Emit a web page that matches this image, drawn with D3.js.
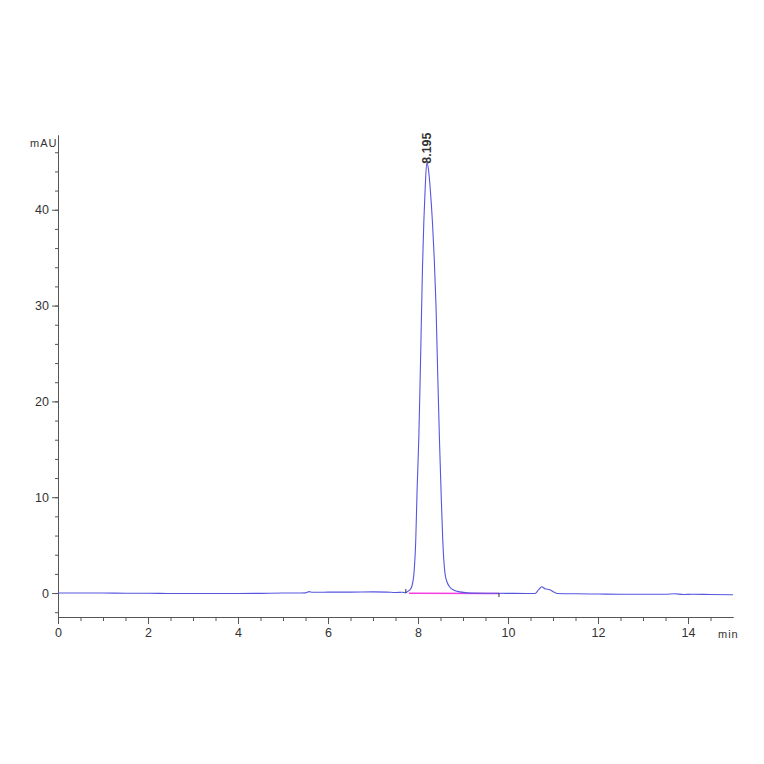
<!DOCTYPE html>
<html>
<head>
<meta charset="utf-8">
<script src="https://cdn.jsdelivr.net/npm/d3@7"></script>
<style>
  body { margin: 0; background: #fff; }
  svg text { font-family: "Liberation Sans", Arial, sans-serif; }
</style>
</head>
<body>
<div id="viz-container"></div>
<script>
// chromatogram trace (min, mAU)
let timeMin = [0, 0.5, 1, 1.5, 2, 2.5, 3, 3.5, 4, 4.5, 5, 5.3, 5.5, 5.58, 5.65, 5.8, 6, 6.5, 7, 7.3, 7.5, 7.65, 7.72, 7.75,
  7.8, 7.83, 7.86, 7.91, 7.95, 7.98, 8.02, 8.06, 8.10, 8.13, 8.16, 8.195, 8.23, 8.27, 8.32, 8.36, 8.40, 8.44, 8.48, 8.51, 8.55, 8.6, 8.65,
  8.7, 8.8, 8.93, 9.1, 9.5, 10, 10.4, 10.6, 10.68, 10.75, 10.82, 10.93, 11.02, 11.1, 11.5, 12, 12.5, 13, 13.5, 13.7,
  13.9, 14.1, 14.5, 15];
let signalMAU = [0, 0, 0, -0.02, -0.02, -0.05, -0.05, -0.05, -0.05, -0.03, 0, 0, 0.02, 0.15, 0.08, 0.08, 0.1, 0.1, 0.12, 0.1, 0.05, 0.08, 0.02, 0.1,
  0.25, 0.4, 0.66, 2.05, 5.5, 10.75, 16.5, 25, 34, 38.8, 42.3, 44.9, 44.3, 42.3, 38.8, 35, 30, 22.5, 15.5, 11, 5.5, 2.05, 1.1,
  0.66, 0.3, 0.12, 0.02, -0.02, -0.03, -0.05, -0.05, 0.35, 0.66, 0.45, 0.35, 0.1, -0.05, -0.08, -0.1, -0.12, -0.12, -0.13, -0.08,
  -0.15, -0.12, -0.15, -0.18];

// integration baseline of the main peak and its start / end marks
let baseTimes = [7.8, 9.8];
let baseValues = [-0.02, -0.04];
let peakStart = 7.73;
let peakEnd = 9.8;
let peakLabel = "8.195";
let peakTime = 8.195;
let peakHeight = 44.9;

let xMajorTicks = [0, 2, 4, 6, 8, 10, 12, 14];
let yMajorTicks = [0, 10, 20, 30, 40];

let viz = d3.select("#viz-container")
  .append("svg")
    .attr("width", 764)
    .attr("height", 764);

let x = d3.scaleLinear().domain([0, 15]).range([58, 733]);
let y = d3.scaleLinear().domain([-2.5, 47.8]).range([617, 135]);

let axisColor = "#555";

// minor ticks
viz.append("g")
  .attr("transform", "translate(0,617)")
  .call(d3.axisBottom(x).tickValues(d3.range(0.5, 15, 0.5)).tickSize(4).tickSizeOuter(0).tickFormat(""));
viz.append("g")
  .attr("transform", "translate(58,0)")
  .call(d3.axisLeft(y).tickValues(d3.range(-2, 47.9, 2)).tickSize(3).tickSizeOuter(0).tickFormat(""));

// major ticks
let xAxis = viz.append("g")
  .attr("transform", "translate(0,617)")
  .call(d3.axisBottom(x).tickValues(xMajorTicks).tickSize(7).tickSizeOuter(0).tickPadding(4));
let yAxis = viz.append("g")
  .attr("transform", "translate(58,0)")
  .call(d3.axisLeft(y).tickValues(yMajorTicks).tickSize(6).tickSizeOuter(0).tickPadding(3));

viz.selectAll(".domain, .tick line").attr("stroke", axisColor);
viz.selectAll(".tick text").attr("fill", "#333").attr("font-size", 12.5);

viz.append("text")
  .text("mAU")
  .attr("x", 30).attr("y", 147)
  .attr("font-size", 11)
  .attr("letter-spacing", 1)
  .attr("fill", "#333");

viz.append("text")
  .text("min")
  .attr("x", 718).attr("y", 638)
  .attr("font-size", 11)
  .attr("letter-spacing", 1)
  .attr("fill", "#333");

// baseline under the peak
let points = timeMin.map((t, i) => [t, signalMAU[i]]);
let basePoints = baseTimes.map((t, i) => [t, baseValues[i]]);

viz.append("path")
  .datum(basePoints)
  .attr("d", d3.line().x(d => x(d[0])).y(d => y(d[1])))
  .attr("fill", "none")
  .attr("stroke", "#f43fe0")
  .attr("stroke-width", 1.5);

viz.append("path")
  .datum(points)
  .attr("d", d3.line().curve(d3.curveMonotoneX).x(d => x(d[0])).y(d => y(d[1])))
  .attr("fill", "none")
  .attr("stroke", "#5656e0")
  .attr("stroke-width", 1.1);

// peak start / end marks
viz.append("line")
  .attr("x1", x(peakStart)).attr("x2", x(peakStart))
  .attr("y1", y(0)).attr("y2", y(0) - 4)
  .attr("stroke", "#333");
viz.append("line")
  .attr("x1", x(peakEnd)).attr("x2", x(peakEnd))
  .attr("y1", y(0)).attr("y2", y(0) + 4)
  .attr("stroke", "#333");

// retention time label
viz.append("text")
  .text(peakLabel)
  .attr("transform", "translate(" + (x(peakTime) + 4) + "," + (y(peakHeight) + 1) + ") rotate(-90)")
  .attr("font-size", 12.5)
  .attr("font-weight", "bold")
  .attr("fill", "#333");
</script>
</body>
</html>
